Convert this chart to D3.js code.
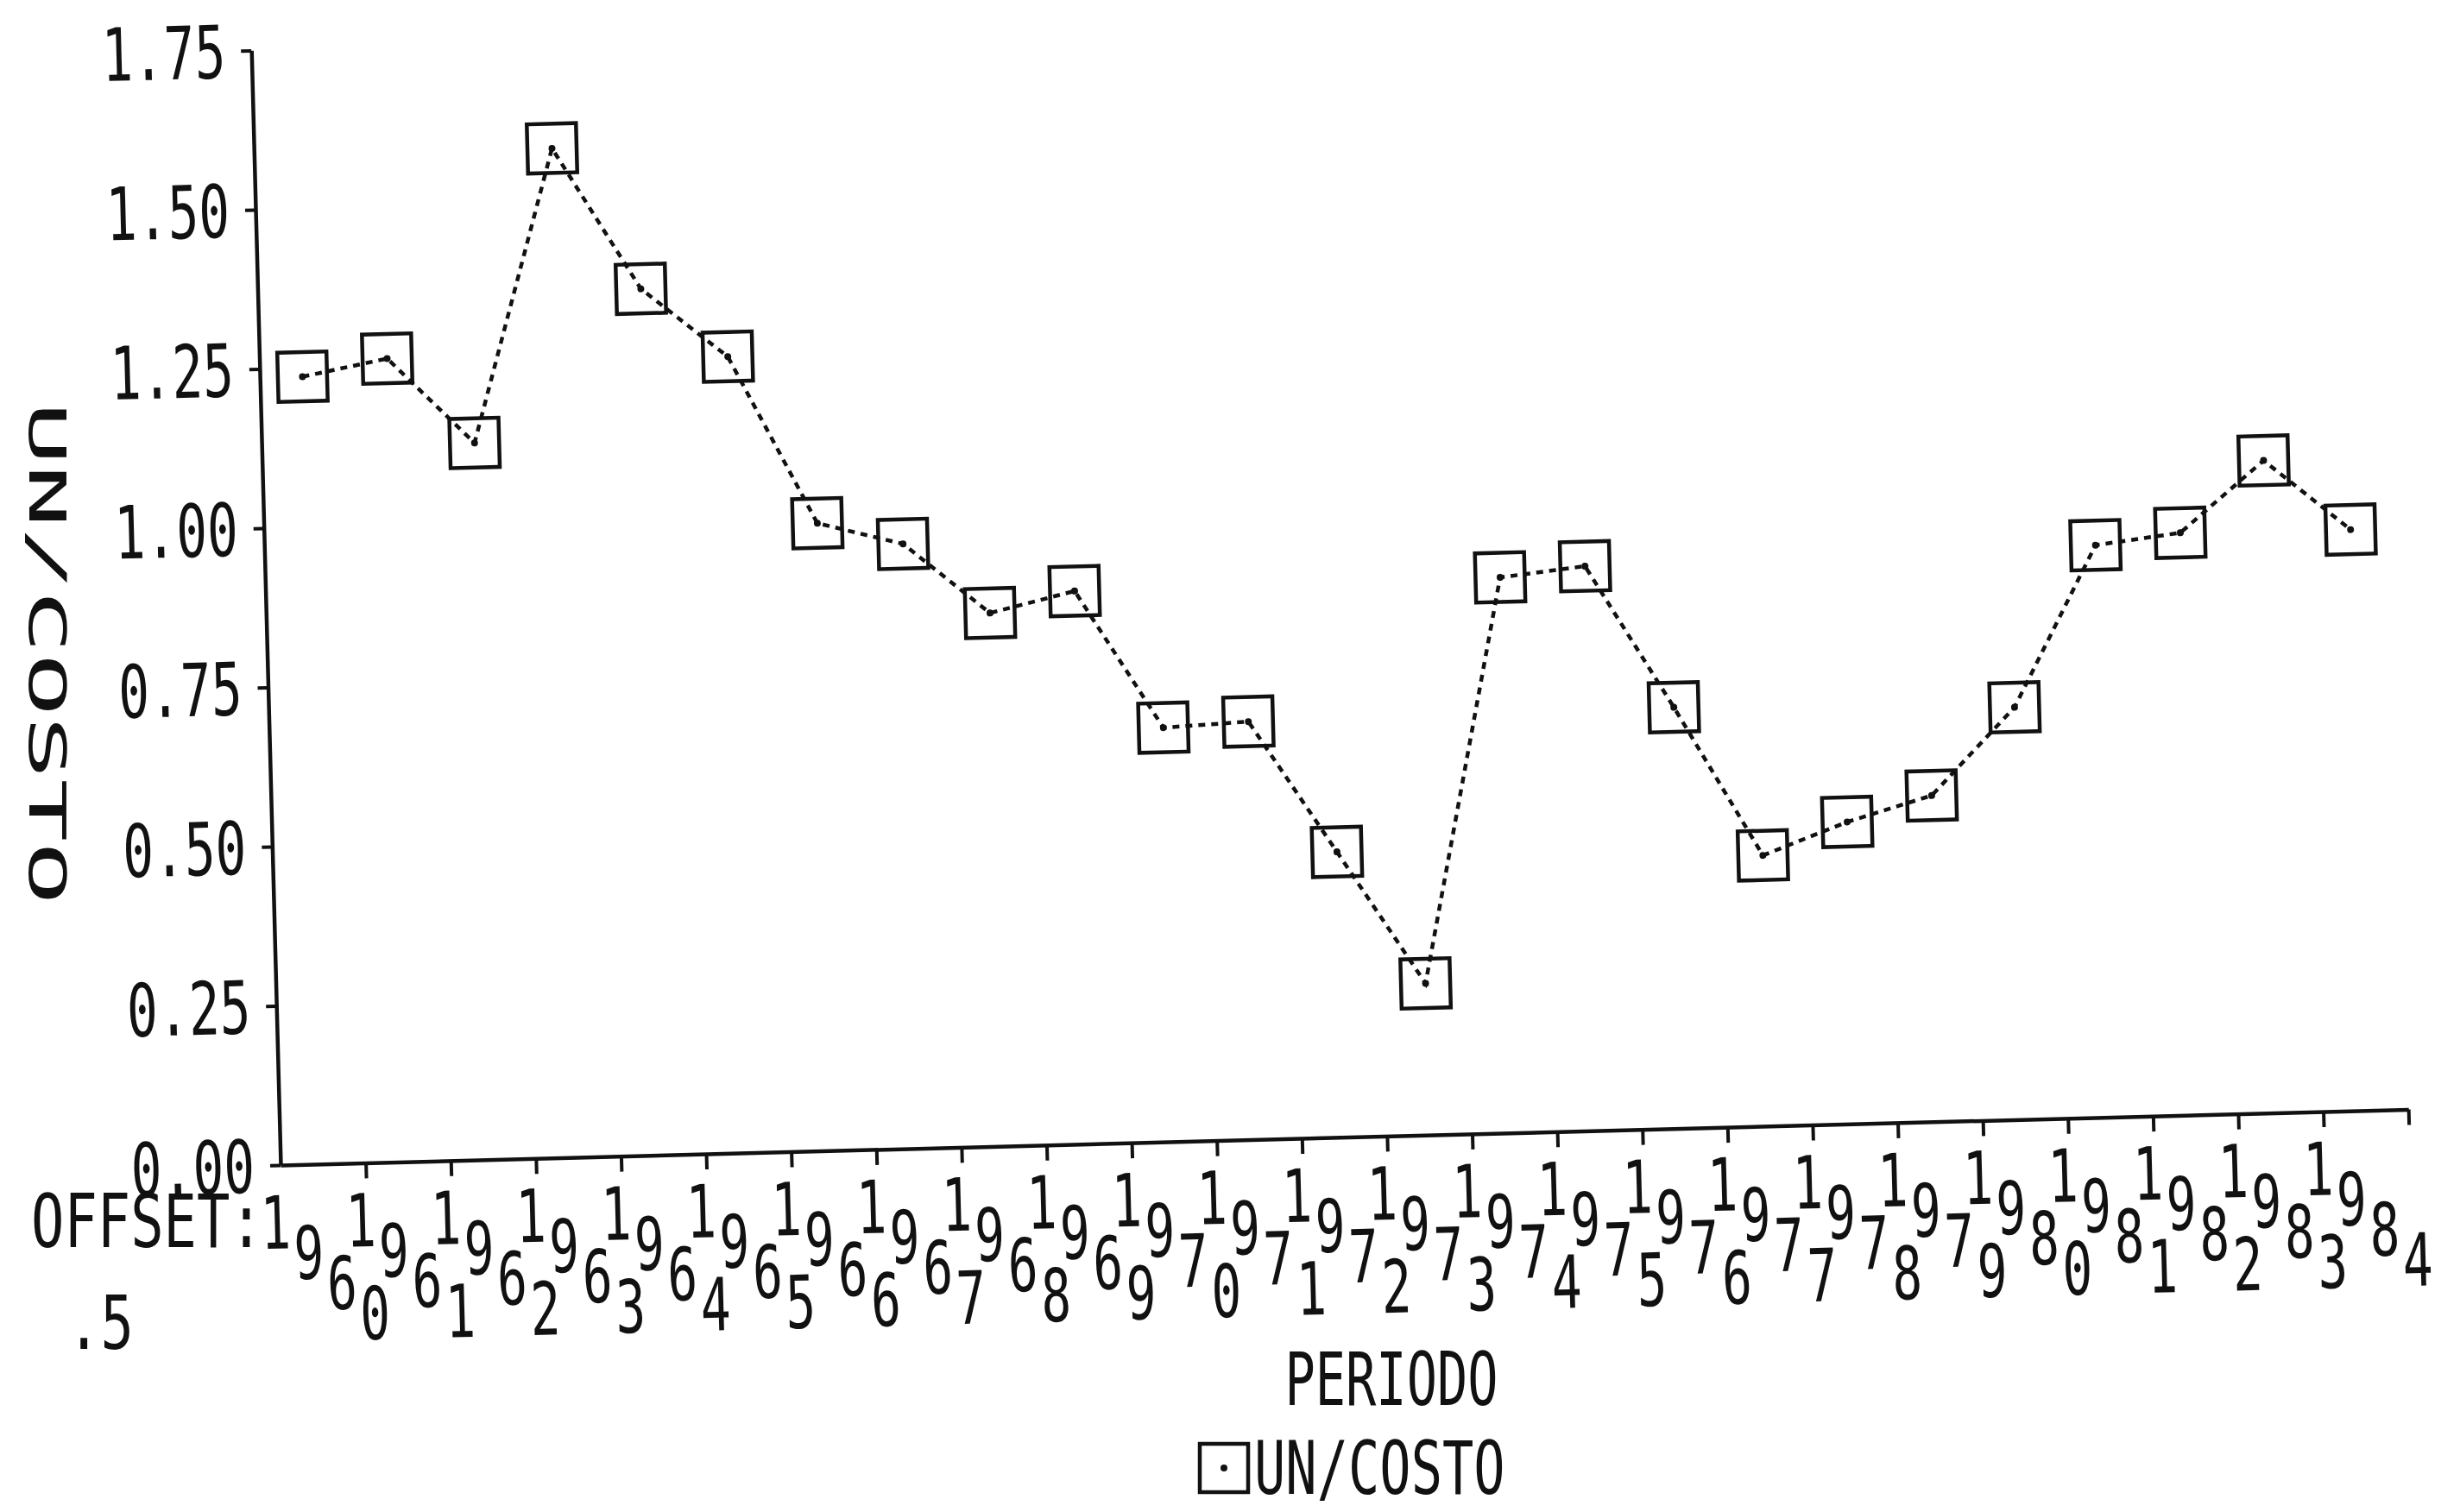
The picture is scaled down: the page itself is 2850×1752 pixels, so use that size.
<!DOCTYPE html>
<html>
<head>
<meta charset="utf-8">
<script src="https://cdn.jsdelivr.net/npm/d3@7"></script>
<style>
html,body{margin:0;padding:0;background:#fff;}
svg{display:block;}
</style>
</head>
<body>
<script>
// ---- data ----
const years = [1960,1961,1962,1963,1964,1965,1966,1967,1968,1969,1970,1971,1972,
               1973,1974,1975,1976,1977,1978,1979,1980,1981,1982,1983,1984];
const costo = [1.236,1.261,1.125,1.584,1.360,1.250,0.985,0.949,0.837,0.868,0.650,0.656,0.448,
               0.238,0.872,0.886,0.661,0.425,0.474,0.512,0.647,0.898,0.914,1.024,0.912];
const yTicks = [0,0.25,0.5,0.75,1.0,1.25,1.5,1.75];
const yTickLabels = ["0.00","0.25","0.50","0.75","1.00","1.25","1.50","1.75"];
const xTickPositions = [1,2,3,4,5,6,7,8,9,10,11,12,13,14,15,16,17,18,19,20,21,22,23,24,25];
const pointOffset = 0.5;
const offsetText = ["OFFSET:", ".5"];
const xTitle = "PERIODO";
const yTitle = "UN/COSTO";
const seriesName = "UN/COSTO";

// ---- layout ----
const W = 2850, H = 1752;
const FONT = "'DejaVu Sans Mono','Liberation Mono',monospace";
const ink = "#111";
const origin = [325, 1350];
const tilt = -1.5;
const plotW = 2466, plotH = 1292;

const svg = d3.select("body").append("svg").attr("width", W).attr("height", H);
svg.append("rect").attr("width", W).attr("height", H).attr("fill", "#fff");

const x = d3.scaleLinear().domain([0, 25]).range([0, plotW]);
const y = d3.scaleLinear().domain([0, 1.75]).range([0, -plotH]);

function monoText(parent, str, tx, ty, anchor, sx, size) {
  const gg = parent.append("g").attr("transform", `translate(${tx},${ty}) scale(${sx},1)`);
  gg.append("text")
    .attr("font-family", FONT).attr("font-size", size || 85).attr("fill", ink)
    .attr("text-anchor", anchor).attr("dy", "0.36em")
    .text(str);
  return gg;
}

const g = svg.append("g").attr("transform", `translate(${origin[0]},${origin[1]}) rotate(${tilt})`);

// y axis
const yAxis = g.append("g")
  .call(d3.axisLeft(y).tickValues(yTicks).tickFormat((d, i) => yTickLabels[i]).tickSize(12).tickSizeOuter(0));
yAxis.select(".domain").attr("stroke", ink).attr("stroke-width", 4.5);
yAxis.selectAll(".tick line").attr("stroke", ink).attr("stroke-width", 4);
yAxis.selectAll(".tick text")
  .attr("font-family", FONT).attr("font-size", 85).attr("fill", ink)
  .attr("x", -30 / 0.7).attr("dy", "0.36em").attr("transform", "scale(0.7,1)");

// x axis
const xAxis = g.append("g")
  .call(d3.axisBottom(x).tickValues(xTickPositions).tickFormat("").tickSize(18).tickSizeOuter(0));
xAxis.select(".domain").attr("stroke", ink).attr("stroke-width", 4.5);
xAxis.selectAll(".tick line").attr("stroke", ink).attr("stroke-width", 4);

// staggered year labels
const labels = g.append("g");
years.forEach((yr, i) => {
  const s = String(yr);
  for (let j = 0; j < s.length; j++) {
    monoText(labels, s[j], x(i + 1) - 106 + 37.5 * j, 66 + 36 * j, "middle", 0.68);
  }
});

// series line
const line = d3.line().x((d, i) => x(i + pointOffset)).y(d => y(d));
g.append("path").datum(costo)
  .attr("d", line).attr("fill", "none").attr("stroke", ink)
  .attr("stroke-width", 4.5).attr("stroke-dasharray", "8,7");

// markers
const box = 57;
const pts = g.append("g");
costo.forEach((v, i) => {
  const cx = x(i + pointOffset), cy = y(v);
  pts.append("rect").attr("x", cx - box / 2).attr("y", cy - box / 2)
    .attr("width", box).attr("height", box)
    .attr("fill", "none").attr("stroke", ink).attr("stroke-width", 4.5);
  pts.append("circle").attr("cx", cx).attr("cy", cy).attr("r", 4).attr("fill", ink);
});

// OFFSET text
monoText(svg, offsetText[0], 36, 1414, "start", 0.75);
monoText(svg, offsetText[1], 78, 1532, "start", 0.75);

// x title
monoText(svg, xTitle, 1612, 1597, "middle", 0.69);

// legend
svg.append("rect").attr("x", 1390).attr("y", 1673).attr("width", 56).attr("height", 56)
  .attr("fill", "none").attr("stroke", ink).attr("stroke-width", 4.5);
svg.append("circle").attr("cx", 1418).attr("cy", 1701).attr("r", 4).attr("fill", ink);
monoText(svg, seriesName, 1453, 1700, "start", 0.71);

// y title (rotated, reads top to bottom)
const yt = svg.append("g").attr("transform", "translate(55,757) rotate(90) scale(2.05,1)");
yt.append("text").attr("font-family", FONT).attr("font-size", 59).attr("fill", ink)
  .attr("text-anchor", "middle").attr("dy", "0.36em").text(yTitle);
</script>
</body>
</html>
